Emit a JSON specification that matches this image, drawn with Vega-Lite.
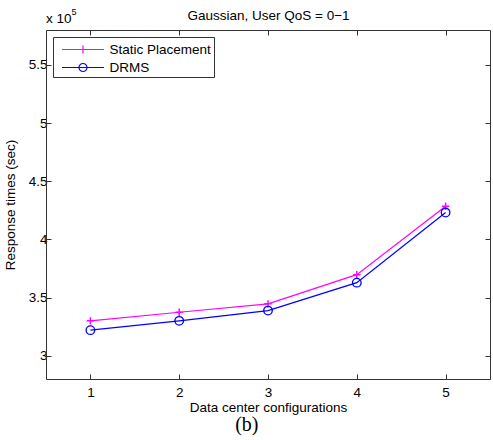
{
  "$schema": "https://vega.github.io/schema/vega-lite/v6.json",
  "width": 444,
  "height": 349,
  "autosize": {"type": "none"},
  "padding": {"left": 46, "top": 30, "right": 3, "bottom": 61},
  "background": "white",
  "config": {"view": {"stroke": null}, "font": "Liberation Sans"},
  "title": {"text": "(b)", "orient": "bottom", "anchor": "middle", "frame": "bounds", "font": "Liberation Serif", "fontSize": 20, "fontWeight": "normal", "color": "black", "offset": 1},
  "data": {
    "values": [
      {"config": 1, "series": "Static Placement", "response": 330000},
      {"config": 2, "series": "Static Placement", "response": 337400},
      {"config": 3, "series": "Static Placement", "response": 344600},
      {"config": 4, "series": "Static Placement", "response": 369700},
      {"config": 5, "series": "Static Placement", "response": 428500},
      {"config": 1, "series": "DRMS", "response": 322000},
      {"config": 2, "series": "DRMS", "response": 330000},
      {"config": 3, "series": "DRMS", "response": 338800},
      {"config": 4, "series": "DRMS", "response": 362800},
      {"config": 5, "series": "DRMS", "response": 423100}
    ]
  },
  "resolve": {"axis": {"x": "independent", "y": "independent"}},
  "layer": [
    {
      "mark": {"type": "line", "strokeWidth": 1.2},
      "encoding": {
        "x": {
          "field": "config", "type": "quantitative",
          "scale": {"domain": [0.5, 5.5], "nice": false, "zero": false},
          "axis": {"orient": "bottom", "values": [1, 2, 3, 4, 5], "format": "d", "title": "Data center configurations", "grid": false, "tickSize": -5, "tickColor": "#333", "domainColor": "#333", "labelFontSize": 13.5, "labelColor": "black", "labelPadding": 11, "titleFontSize": 13.5, "titleFontWeight": "normal", "titleColor": "black", "titlePadding": 2}
        },
        "y": {
          "field": "response", "type": "quantitative",
          "scale": {"domain": [280000, 580000], "nice": false, "zero": false},
          "axis": {"orient": "left", "values": [300000, 350000, 400000, 450000, 500000, 550000], "labelExpr": "format(datum.value/100000,'~g')", "title": "Response times (sec)", "grid": false, "tickSize": -5, "tickColor": "#333", "domainColor": "#333", "labelFontSize": 13.5, "labelColor": "black", "labelPadding": 4, "titleFontSize": 13.5, "titleFontWeight": "normal", "titleColor": "black", "titlePadding": 11}
        },
        "color": {
          "field": "series", "type": "nominal",
          "scale": {"domain": ["Static Placement", "DRMS"], "range": ["#ff00ff", "#0000ff"]},
          "legend": {
            "orient": "none", "legendX": 7, "legendY": 7, "title": null,
            "strokeColor": "#333", "fillColor": "white", "padding": 3, "rowPadding": 2,
            "symbolSize": 289, "symbolOffset": 17.5, "labelOffset": 17,
            "labelFontSize": 13.5, "labelColor": "black", "symbolStrokeWidth": 1.2,
            "encode": {"symbols": {"update": {"shape": {"signal": "datum.value === 'DRMS' ? 'M-2.47,0H2.47M-0.47,0A0.47,0.47 0 1,1 0.47,0A0.47,0.47 0 1,1 -0.47,0' : 'M-2.47,0H2.47M0,-0.47V0.47'"}}}}
          }
        }
      }
    },
    {
      "transform": [{"filter": "datum.series === 'Static Placement'"}],
      "mark": {"type": "point", "filled": false, "strokeWidth": 1.5, "size": 64, "opacity": 1, "color": "#ff00ff", "shape": "M-0.92,0H0.92M0,-0.92V0.92"},
      "encoding": {
        "x": {
          "field": "config", "type": "quantitative",
          "axis": {"orient": "top", "values": [1, 2, 3, 4, 5], "labels": false, "title": "Gaussian, User QoS = 0\u22121", "grid": false, "tickSize": -5, "tickColor": "#333", "domainColor": "#333", "titleFontSize": 13.5, "titleFontWeight": "normal", "titleColor": "black", "titleBaseline": "alphabetic", "titlePadding": 10}
        },
        "y": {
          "field": "response", "type": "quantitative",
          "axis": {"orient": "right", "values": [300000, 350000, 400000, 450000, 500000, 550000], "labels": false, "title": null, "grid": false, "tickSize": -5, "tickColor": "#333", "domainColor": "#333"}
        }
      }
    },
    {
      "transform": [{"filter": "datum.series === 'DRMS'"}],
      "mark": {"type": "point", "filled": false, "strokeWidth": 1.3, "size": 64, "opacity": 1, "color": "#0000ff", "shape": "M-1.07,0A1.07,1.07 0 1,1 1.07,0A1.07,1.07 0 1,1 -1.07,0"},
      "encoding": {
        "x": {"field": "config", "type": "quantitative", "axis": null},
        "y": {"field": "response", "type": "quantitative", "axis": null}
      }
    },
    {
      "data": {"values": [{"t": "x 10"}]},
      "mark": {"type": "text", "align": "left", "baseline": "alphabetic", "fontSize": 13.5, "dy": -7.3, "color": "black"},
      "encoding": {
        "x": {"datum": 0.5, "type": "quantitative", "axis": null},
        "y": {"datum": 580000, "type": "quantitative", "axis": null},
        "text": {"field": "t"}
      }
    },
    {
      "data": {"values": [{"t": "5"}]},
      "mark": {"type": "text", "align": "left", "baseline": "alphabetic", "fontSize": 9, "dx": 25.5, "dy": -15, "color": "black"},
      "encoding": {
        "x": {"datum": 0.5, "type": "quantitative", "axis": null},
        "y": {"datum": 580000, "type": "quantitative", "axis": null},
        "text": {"field": "t"}
      }
    }
  ]
}
